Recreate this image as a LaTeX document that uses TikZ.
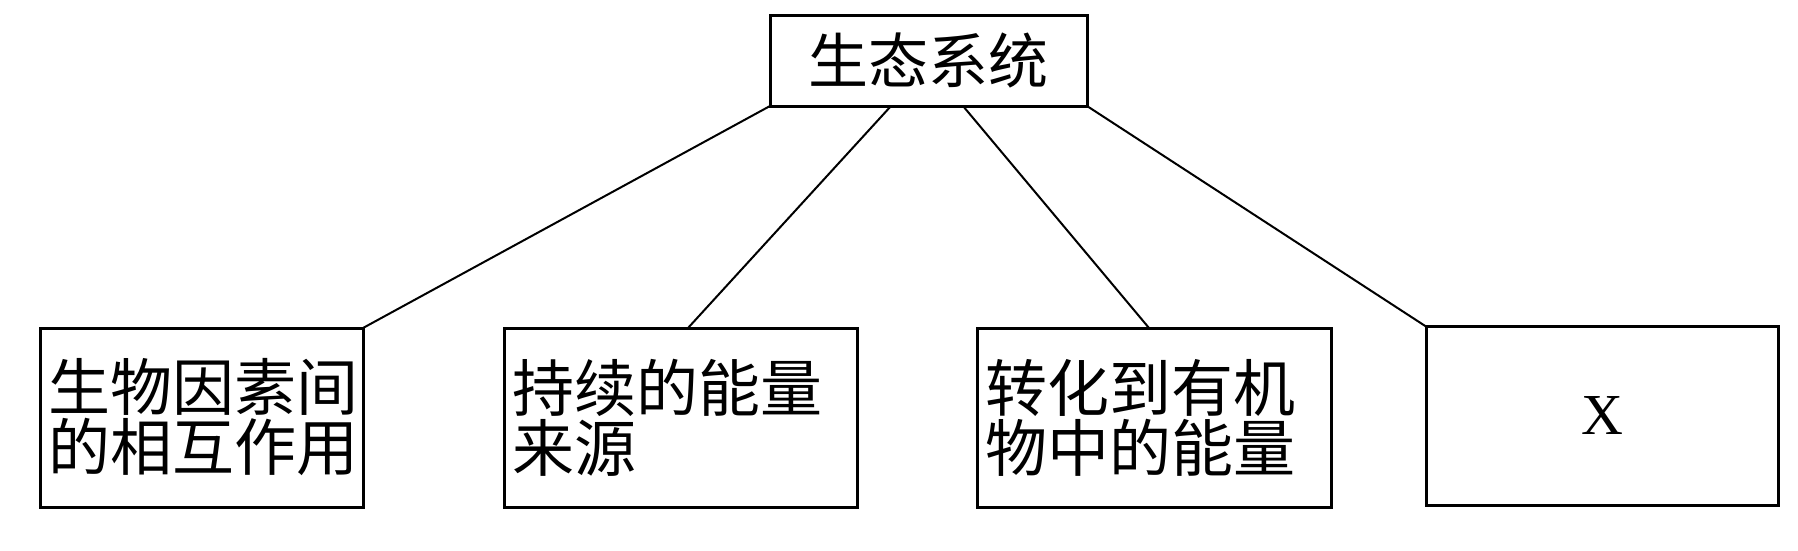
\documentclass[tikz,border=0pt]{standalone}
\usepackage{fontspec}
\newfontfamily\cjk{Noto Sans CJK SC}
\setmainfont{Liberation Serif}
\begin{document}
\begin{tikzpicture}[x=1pt,y=-1pt,
  bx/.style={draw,line width=3pt,rectangle,inner sep=0pt,outer sep=0pt},
  lk/.style={line width=2pt}]
\useasboundingbox (0,0) rectangle (1798,550);
\node[bx,minimum width=317,minimum height=91,font=\cjk\fontsize{60}{64}\selectfont] (top) at (928.5,60.5) {生态系统};
\node[bx,minimum width=323,minimum height=179,text width=307,align=left,font=\cjk\fontsize{62}{60}\selectfont] (a) at (201.5,417.5) {生物因素间\\的相互作用};
\node[bx,minimum width=353,minimum height=179,text width=337,align=left,font=\cjk\fontsize{62}{60}\selectfont] (b) at (680.5,417.5) {持续的能量\\来源};
\node[bx,minimum width=354,minimum height=179,text width=338,align=left,font=\cjk\fontsize{62}{60}\selectfont] (c) at (1154,417.5) {转化到有机\\物中的能量};
\node[bx,minimum width=352,minimum height=179,font=\fontsize{58}{60}\selectfont] (d) at (1602,416) {X};
\draw[lk] (top.south west) -- (a.north east) ++(30,0);
\draw[lk] ([xshift=121pt]top.south west) -- ([xshift=184pt]b.north west);
\draw[lk] ([xshift=193pt]top.south west) -- ([xshift=172pt]c.north west);
\draw[lk] (top.south east) -- (d.north west);
\end{tikzpicture}
\end{document}
